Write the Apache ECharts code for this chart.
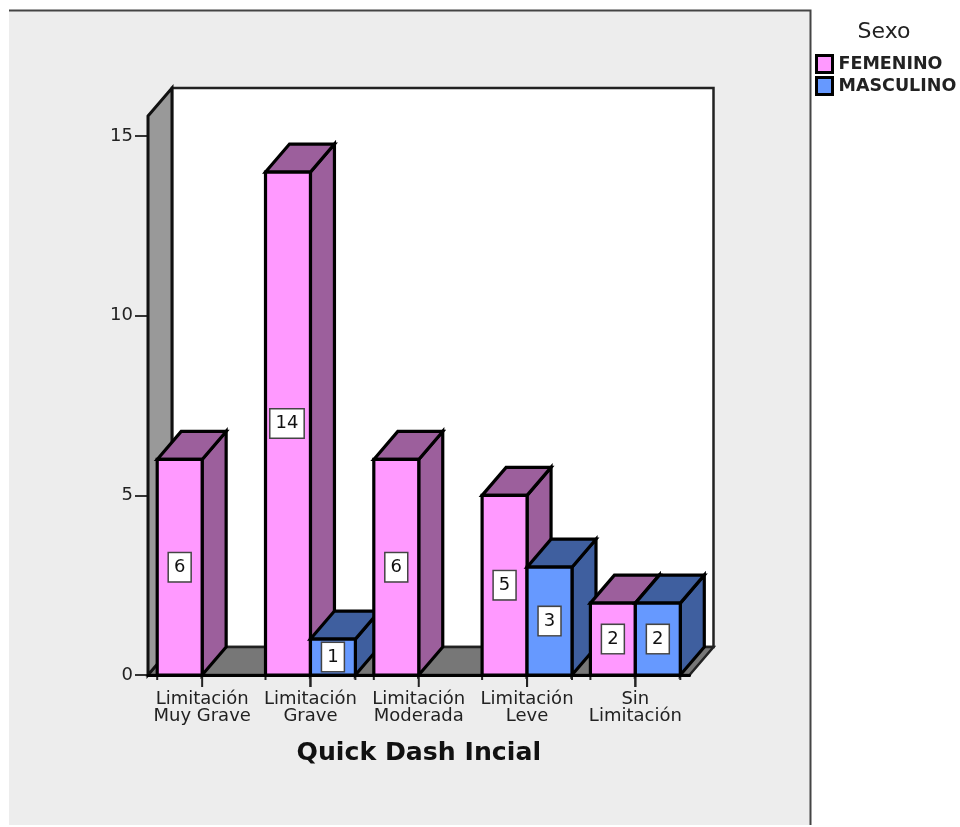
<!DOCTYPE html>
<html>
<head>
<meta charset="utf-8">
<style>html,body{margin:0;padding:0;background:#fff}#chart{width:960px;height:827px}</style>
<script src="https://cdn.jsdelivr.net/npm/echarts@6/dist/echarts.min.js"></script>
</head>
<body>
<div id="chart"></div>
<script>
// Quick Dash score by sex: counts per limitation level
const categories = ['Limitación\nMuy Grave', 'Limitación\nGrave', 'Limitación\nModerada', 'Limitación\nLeve', 'Sin\nLimitación'];
const femenino = [6, 14, 6, 5, 2];
const masculino = [null, 1, null, 3, 2];
const yTicks = [0, 5, 10, 15];

const FONT = '"DejaVu Sans", sans-serif';
const DEPTH_X = 24, DEPTH_Y = -28;   // oblique projection of the box depth
const BAR_RATIO = 0.415;             // bar width relative to the category band
const STROKE = 3.2;

function face(points, fill, z2) {
  return {
    type: 'polygon', z2,
    shape: { points },
    style: { fill, stroke: '#000', lineWidth: STROKE, lineJoin: 'miter' }
  };
}

// One oblique box per value, left-hand or right-hand of the category centre
function barRenderer(side, front, dark, order) {
  return function (params, api) {
    const cat = api.value(0), val = api.value(1);
    if (val == null || isNaN(val)) return;
    const top = api.coord([cat, val]);
    const base = api.coord([cat, 0]);
    const w = api.size([1, 0])[0] * BAR_RATIO;
    const x0 = side < 0 ? top[0] - w : top[0];
    const x1 = x0 + w;
    const y0 = top[1], y1 = base[1];
    const z = 10 + cat * 4 + order;
    const dx = DEPTH_X, dy = DEPTH_Y;
    // short ticks on the bar's outer edge, longer one on the category centre
    const outerTick = 5, centreTick = 12;
    const leftLen = side > 0 ? centreTick : outerTick;
    const rightLen = side < 0 ? centreTick : outerTick;
    return {
      type: 'group',
      children: [
        face([[x1, y0], [x1 + dx, y0 + dy], [x1 + dx, y1 + dy], [x1, y1]], dark, z),
        face([[x0, y0], [x0 + dx, y0 + dy], [x1 + dx, y0 + dy], [x1, y0]], dark, z),
        face([[x0, y0], [x1, y0], [x1, y1], [x0, y1]], front, z),
        {
          type: 'line', z2: z,
          shape: { x1: x0, y1: y1, x2: x0, y2: y1 + leftLen },
          style: { stroke: '#222', lineWidth: 2 }
        },
        {
          type: 'line', z2: z,
          shape: { x1: x1, y1: y1, x2: x1, y2: y1 + rightLen },
          style: { stroke: '#222', lineWidth: 2 }
        },
        {
          type: 'text', z2: z + 1,
          x: (x0 + x1) / 2 - (val >= 10 ? 1 : 0), y: (y0 + y1) / 2,
          style: {
            text: String(val),
            font: '18px ' + FONT,
            fill: '#111',
            align: 'center', verticalAlign: 'middle',
            backgroundColor: '#fff',
            borderColor: '#444', borderWidth: 1.5,
            padding: [6, 5, 4, 5]
          }
        }
      ]
    };
  };
}

// Back wall, side wall and floor of the plot box
function wallsRenderer(params) {
  const c = params.coordSys;
  const dx = DEPTH_X, dy = DEPTH_Y;
  const L = c.x, R = c.x + c.width, T = c.y, B = c.y + c.height;
  const wallStroke = { stroke: '#222', lineWidth: 2.5, lineJoin: 'miter' };
  return {
    type: 'group',
    children: [
      { type: 'polygon', z2: 1,
        shape: { points: [[L + dx, T + dy], [R + dx, T + dy], [R + dx, B + dy], [L + dx, B + dy]] },
        style: { fill: '#fff', ...wallStroke } },
      { type: 'polygon', z2: 2,
        shape: { points: [[L, B], [L + dx, B + dy], [R + dx, B + dy], [R, B]] },
        style: { fill: '#777', stroke: '#222', lineWidth: 2.5 } },
      { type: 'polygon', z2: 3,
        shape: { points: [[L, T], [L + dx, T + dy], [L + dx, B + dy], [L, B]] },
        style: { fill: '#999', stroke: '#111', lineWidth: 3 } }
    ]
  };
}

const chart = echarts.init(document.getElementById('chart'), null, { renderer: 'canvas' });
chart.setOption({
  backgroundColor: '#fff',
  animation: false,
  graphic: [
    { type: 'rect', z: -10, silent: true,
      shape: { x: 9, y: 10, width: 801, height: 815 },
      style: { fill: '#EDEDED' } },
    { type: 'polyline', z: -9, silent: true,
      shape: { points: [[9, 10.5], [810.5, 10.5], [810.5, 825]] },
      style: { fill: 'none', stroke: '#444', lineWidth: 2 } }
  ],
  title: {
    text: 'Sexo', left: 884, top: 21, textAlign: 'center',
    padding: 0,
    textStyle: { fontFamily: FONT, fontSize: 22, fontWeight: 'normal', color: '#222' }
  },
  legend: {
    orient: 'vertical', left: 815, top: 54, padding: 0,
    itemWidth: 16, itemHeight: 17, itemGap: 2, icon: 'rect',
    textStyle: { fontFamily: FONT, fontSize: 17.5, fontWeight: 'bold', color: '#222', padding: [0, 0, 0, 1] },
    data: [
      { name: 'FEMENINO', itemStyle: { color: '#FF99FF', borderColor: '#000', borderWidth: 3 } },
      { name: 'MASCULINO', itemStyle: { color: '#6699FF', borderColor: '#000', borderWidth: 3 } }
    ]
  },
  grid: { left: 148, top: 116, width: 541.5, height: 559 },
  xAxis: {
    type: 'category', data: categories,
    z: 5,
    axisLine: { lineStyle: { color: '#000', width: 3 } },
    axisTick: { show: false },
    axisLabel: { fontFamily: FONT, fontSize: 18, lineHeight: 17, color: '#222', margin: 16, interval: 0 },
    name: 'Quick Dash Incial', nameLocation: 'middle', nameGap: 66,
    nameTextStyle: { fontFamily: FONT, fontSize: 25.2, fontWeight: 'bold', color: '#111' }
  },
  yAxis: {
    type: 'value', min: 0, max: 15.56, interval: 5,
    splitLine: { show: false },
    axisLine: { show: true, lineStyle: { color: '#111', width: 3 } },
    axisTick: { show: true, length: 13, customValues: yTicks, lineStyle: { color: '#333', width: 2 } },
    axisLabel: { fontFamily: FONT, fontSize: 18, color: '#222', margin: 15, customValues: yTicks }
  },
  series: [
    { type: 'custom', name: 'walls', silent: true, z: 1, data: [[0, 0]], encode: { x: 0, y: 1 },
      renderItem: wallsRenderer, clip: false },
    { type: 'custom', name: 'FEMENINO', silent: true, z: 1, encode: { x: 0, y: 1 },
      itemStyle: { color: '#FF99FF' },
      data: femenino.map((v, i) => [i, v]),
      renderItem: barRenderer(-1, '#FF99FF', '#9C5F9C', 0), clip: false },
    { type: 'custom', name: 'MASCULINO', silent: true, z: 1, encode: { x: 0, y: 1 },
      itemStyle: { color: '#6699FF' },
      data: masculino.map((v, i) => [i, v]),
      renderItem: barRenderer(1, '#6699FF', '#3F5F9F', 2), clip: false }
  ]
});
</script>
</body>
</html>
